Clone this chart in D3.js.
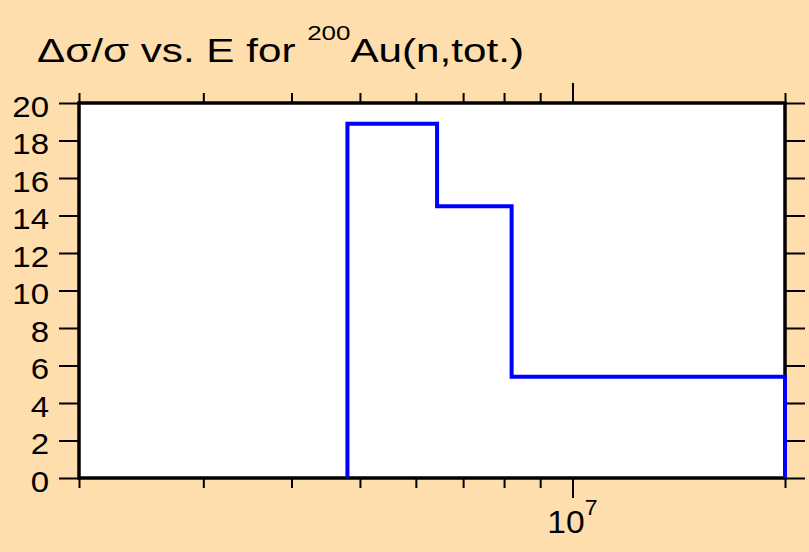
<!DOCTYPE html>
<html>
<head>
<meta charset="utf-8">
<script src="https://d3js.org/d3.v7.min.js"></script>
<style>
  body { margin: 0; background: #ffdead; }
  svg { display: block; font-family: "Liberation Sans", Arial, sans-serif; }
</style>
</head>
<body>
<script>
// bin edges (eV) and relative uncertainty (%) per bin
var binEdges = [4.8e6, 6.43e6, 8.2e6, 2.0e7];
var binValues = [18.9, 14.5, 5.4];

var xDomain = [2e6, 2e7];
var yDomain = [0, 20];
var xMinorTicks = [2e6, 3e6, 4e6, 5e6, 6e6, 7e6, 8e6, 9e6, 2e7];
var xMajorTicks = [1e7];
var yTicks = [0, 2, 4, 6, 8, 10, 12, 14, 16, 18, 20];

var width = 809,
    height = 552;
var plotLeft = 79, plotRight = 785, plotTop = 103, plotBottom = 478;
var stretch = 1.1;   // glyphs in the original are a bit wider than Arial

var svg = d3.select("body").append("svg")
    .attr("width", width)
    .attr("height", height);

var x = d3.scaleLog().domain(xDomain).range([plotLeft, plotRight]);
var y = d3.scaleLinear().domain(yDomain).range([plotBottom, plotTop]);

// widen a text node horizontally
function widen(sel, k) {
  sel.each(function() {
    var len = this.getComputedTextLength();
    d3.select(this).attr("textLength", len * k).attr("lengthAdjust", "spacingAndGlyphs");
  });
}

// title
var title = svg.append("text")
    .attr("x", 37)
    .attr("y", 62)
    .attr("font-size", 32.5)
    .attr("fill", "#000");
title.append("tspan").text("\u0394\u03c3/\u03c3 vs. E for ");
title.append("tspan").attr("font-size", 20).attr("dy", -22).text("200");
title.append("tspan").attr("dy", 22).text("Au(n,tot.)");
title.attr("textLength", 487).attr("lengthAdjust", "spacingAndGlyphs");

// plot area
svg.append("rect")
    .attr("x", plotLeft).attr("y", plotTop)
    .attr("width", plotRight - plotLeft).attr("height", plotBottom - plotTop)
    .attr("fill", "#fff");

function styleAxis(g) {
  g.select(".domain").remove();
  g.selectAll(".tick line").attr("stroke", "#000").attr("stroke-width", 2);
}

// y axes
svg.append("g")
    .attr("transform", "translate(" + plotLeft + ",0)")
    .call(d3.axisLeft(y).tickValues(yTicks).tickSize(20).tickPadding(10))
    .call(styleAxis)
    .call(function(g) {
      g.selectAll("text")
        .attr("font-size", 30)
        .attr("font-family", "Liberation Sans, Arial, sans-serif")
        .attr("fill", "#000")
        .attr("dy", "0.44em")
        .call(widen, stretch);
    });

svg.append("g")
    .attr("transform", "translate(" + plotRight + ",0)")
    .call(d3.axisRight(y).tickValues(yTicks).tickSize(20).tickFormat(""))
    .call(styleAxis);

// x axes: minor and major ticks, bottom and top
svg.append("g")
    .attr("transform", "translate(0," + plotBottom + ")")
    .call(d3.axisBottom(x).tickValues(xMinorTicks).tickSize(10).tickFormat(""))
    .call(styleAxis);
svg.append("g")
    .attr("transform", "translate(0," + plotBottom + ")")
    .call(d3.axisBottom(x).tickValues(xMajorTicks).tickSize(20).tickFormat(""))
    .call(styleAxis);
svg.append("g")
    .attr("transform", "translate(0," + plotTop + ")")
    .call(d3.axisTop(x).tickValues(xMinorTicks).tickSize(10).tickFormat(""))
    .call(styleAxis);
svg.append("g")
    .attr("transform", "translate(0," + plotTop + ")")
    .call(d3.axisTop(x).tickValues(xMajorTicks).tickSize(20).tickFormat(""))
    .call(styleAxis);

// 10^n labels under major ticks
xMajorTicks.forEach(function(v) {
  var t = svg.append("text")
      .attr("x", x(v))
      .attr("y", 533)
      .attr("text-anchor", "middle")
      .attr("font-size", 32)
      .attr("fill", "#000");
  t.append("tspan").text("10");
  t.append("tspan").attr("font-size", 22).attr("dy", -18).text(Math.round(Math.log10(v)));
  t.call(widen, 1.05);
});

// step line
var pts = [{e: binEdges[0], v: 0}];
binValues.forEach(function(v, i) { pts.push({e: binEdges[i], v: v}); });
pts.push({e: binEdges[binEdges.length - 1], v: binValues[binValues.length - 1]});
pts.push({e: binEdges[binEdges.length - 1], v: 0});

var line = d3.line()
    .x(function(d) { return x(d.e); })
    .y(function(d) { return y(d.v); })
    .curve(d3.curveStepAfter);

// frame
svg.append("rect")
    .attr("x", plotLeft).attr("y", plotTop)
    .attr("width", plotRight - plotLeft).attr("height", plotBottom - plotTop)
    .attr("fill", "none")
    .attr("stroke", "#000")
    .attr("stroke-width", 3.5);

svg.append("path")
    .datum(pts)
    .attr("d", line)
    .attr("fill", "none")
    .attr("stroke", "#0000ff")
    .attr("stroke-width", 4);
</script>
</body>
</html>
